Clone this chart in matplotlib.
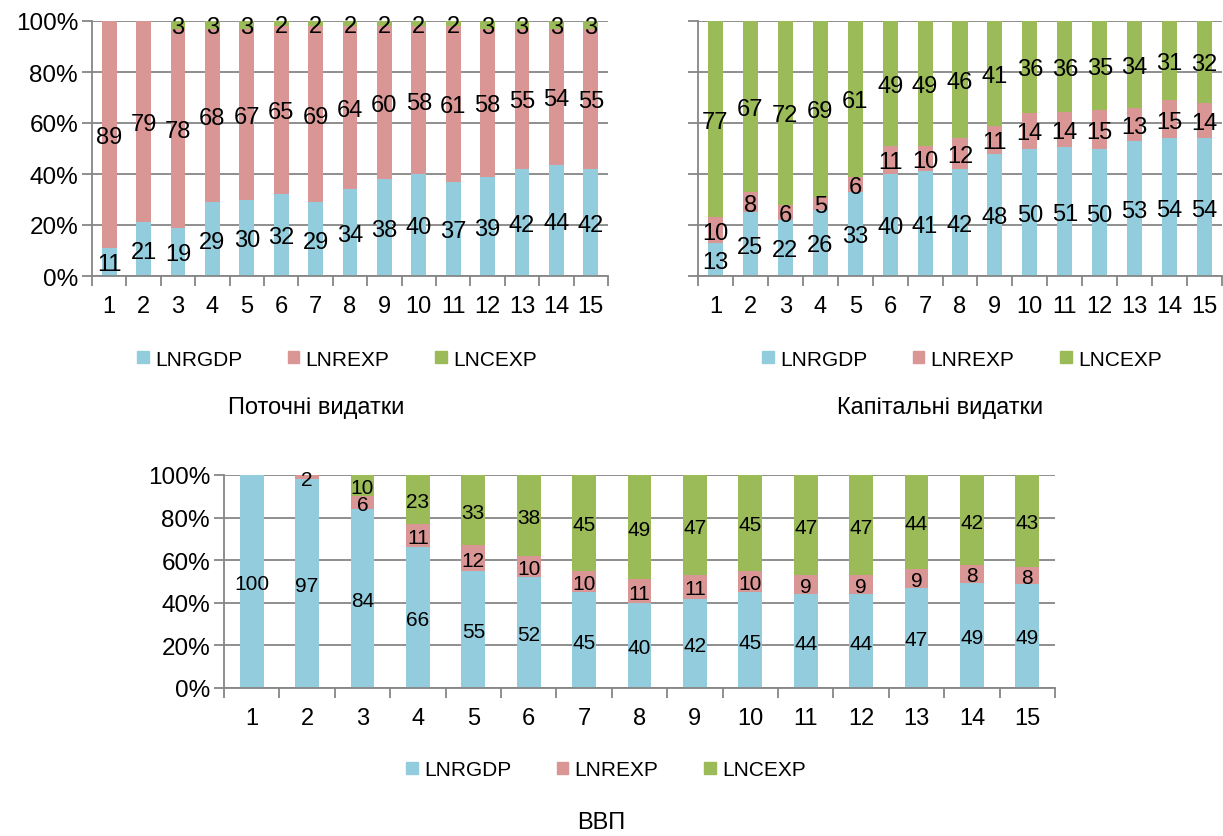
import numpy as np
import matplotlib
matplotlib.use('Agg')
import matplotlib.pyplot as plt
from matplotlib.patches import Patch

plt.rcParams['font.family'] = ['Liberation Sans', 'DejaVu Sans']

periods = [str(i) for i in range(1, 16)]
series_names = ['LNRGDP', 'LNREXP', 'LNCEXP']
colors = ['#93CDDD', '#D99694', '#9BBB59']

# Поточні видатки
cur_gdp = [11, 21, 19, 29, 30, 32, 29, 34, 38, 40, 37, 39, 42, 44, 42]
cur_rexp = [89, 79, 78, 68, 67, 65, 69, 64, 60, 58, 61, 58, 55, 54, 55]
cur_cexp = [0, 0, 3, 3, 3, 2, 2, 2, 2, 2, 2, 3, 3, 3, 3]

# Капітальні видатки
cap_gdp = [13, 25, 22, 26, 33, 40, 41, 42, 48, 50, 51, 50, 53, 54, 54]
cap_rexp = [10, 8, 6, 5, 6, 11, 10, 12, 11, 14, 14, 15, 13, 15, 14]
cap_cexp = [77, 67, 72, 69, 61, 49, 49, 46, 41, 36, 36, 35, 34, 31, 32]

# ВВП
gdp_gdp = [100, 97, 84, 66, 55, 52, 45, 40, 42, 45, 44, 44, 47, 49, 49]
gdp_rexp = [0, 2, 6, 11, 12, 10, 10, 11, 11, 10, 9, 9, 9, 8, 8]
gdp_cexp = [0, 0, 10, 23, 33, 38, 45, 49, 47, 45, 47, 47, 44, 42, 43]

W, H = 1223, 837
fig = plt.figure(figsize=(W / 100, H / 100), dpi=100)
GRID = '#868686'


def px_axes(x0, y0, x1, y1):
    return fig.add_axes([x0 / W, 1 - y1 / H, (x1 - x0) / W, (y1 - y0) / H])


def stacked(ax, parts, show_y=True, label_size=17):
    data = np.array(parts, dtype=float)
    shares = data / data.sum(axis=0) * 100
    x = np.arange(len(periods))
    bottom = np.zeros(len(periods))
    for i, row in enumerate(shares):
        ax.bar(x, row, 0.43, bottom=bottom, color=colors[i], zorder=3)
        for j in range(len(x)):
            if data[i, j] > 0:
                ax.text(x[j], bottom[j] + row[j] / 2, '%d' % data[i, j],
                        ha='center', va='center_baseline', fontsize=label_size, zorder=4)
        bottom += row
    ax.set_xlim(-0.5, len(x) - 0.5)
    ax.set_ylim(0, 100)
    ax.set_yticks(range(0, 101, 20))
    ax.set_yticklabels(['%d%%' % v for v in range(0, 101, 20)] if show_y else [])
    ax.yaxis.grid(True, color=GRID, lw=1.3, zorder=0)
    ax.set_xticks(x)
    ax.set_xticklabels(periods)
    ax.set_xticks(np.arange(-0.5, len(x)), minor=True)
    ax.tick_params(axis='x', which='major', length=0, labelsize=17, pad=14)
    ax.tick_params(axis='x', which='minor', length=7, color=GRID, width=1.3)
    ax.tick_params(axis='y', length=7, color=GRID, width=1.3, labelsize=17.5, pad=3)
    for s in ['top', 'right']:
        ax.spines[s].set_visible(False)
    for s in ['left', 'bottom']:
        ax.spines[s].set_color(GRID)
        ax.spines[s].set_linewidth(1.3)
    ax.spines['bottom'].set_zorder(5)


def legend_and_title(lx, ly, tx, ty, title):
    handles = [Patch(color=c) for c in colors]
    fig.legend(handles, series_names, loc='center', bbox_to_anchor=(lx / W, 1 - ly / H),
               ncol=3, frameon=False, fontsize=15, handlelength=0.55, handleheight=0.55,
               columnspacing=2.2, handletextpad=0.3)
    fig.text(tx / W, 1 - ty / H, title, ha='center', va='center', fontsize=17)


ax1 = px_axes(92, 22, 608, 277)
stacked(ax1, [cur_gdp, cur_rexp, cur_cexp])
legend_and_title(337, 360, 316, 408, 'Поточні видатки')

ax2 = px_axes(698, 22, 1222, 277)
stacked(ax2, [cap_gdp, cap_rexp, cap_cexp], show_y=False)
legend_and_title(962, 360, 940, 408, 'Капітальні видатки')

ax3 = px_axes(224, 476, 1055, 689)
stacked(ax3, [gdp_gdp, gdp_rexp, gdp_cexp], label_size=15)
legend_and_title(606, 771, 601, 823, 'ВВП')

fig.savefig('out.png', dpi=100)
